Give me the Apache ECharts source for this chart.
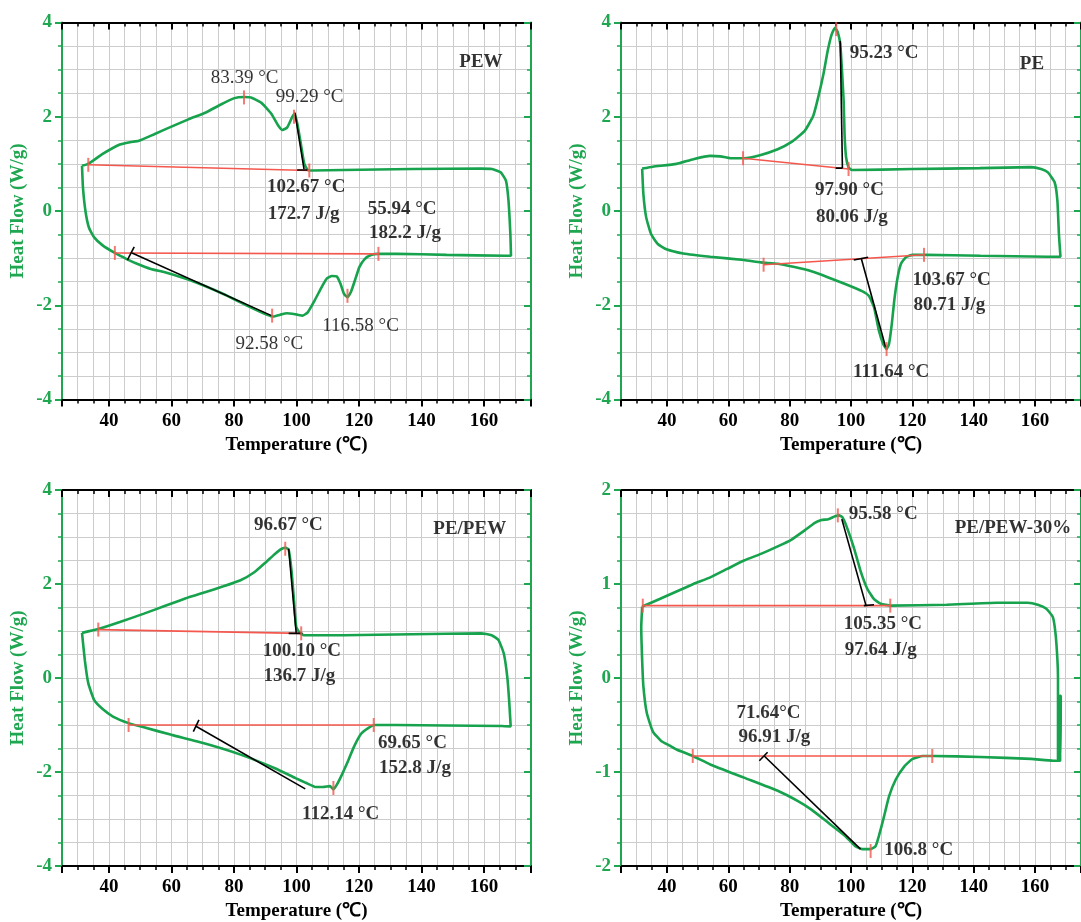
<!DOCTYPE html>
<html>
<head>
<meta charset="utf-8">
<title>DSC curves</title>
<script src="https://cdn.jsdelivr.net/npm/echarts@6/dist/echarts.min.js"></script>
<style>
  html, body { margin: 0; padding: 0; background: #fff; }
  #main { width: 1081px; height: 922px; }
</style>
</head>
<body>
<div id="main"></div>
<script>
// tick labels
const tempTicks = [40, 60, 80, 100, 120, 140, 160];
const flowTicks = [-4, -2, 0, 2, 4];
const flowTicks30 = [-2, -1, 0, 1, 2];

// PEW
const pewTemp = [31.4, 33.4, 38.0, 43.5, 46.8, 49.6, 54.5, 60.0, 65.6, 71.0, 75.5, 79.9, 83.2, 85.4, 88.7, 92.0, 94.2, 95.5, 97.0, 98.6,
  99.4, 100.3, 101.4, 102.5, 103.6, 105.2, 115, 137, 159, 162.5, 165.3, 167, 167.8, 168.4, 168.6, 167, 148, 132, 126, 124,
  121.8, 120.1, 119, 117.4, 116.3, 115.2, 114.1, 112.9, 111.3, 109.6, 108, 105.8, 103.6, 101.9, 100.3, 98.6, 97, 94.8, 92.6, 90.9,
  84.3, 76.6, 65.6, 57.9, 53.4, 49, 45.7, 41.9, 38, 35.3, 33.6, 32.5, 31.7, 31.4];
const pewFlow = [0.96, 1.00, 1.21, 1.41, 1.46, 1.49, 1.63, 1.79, 1.95, 2.09, 2.25, 2.39, 2.42, 2.41, 2.30, 2.06, 1.81, 1.72, 1.77, 1.99,
  2.07, 1.84, 1.42, 1.00, 0.87, 0.86, 0.87, 0.89, 0.90, 0.89, 0.82, 0.64, 0.22, -0.49, -0.95, -0.95, -0.93, -0.91, -0.91, -0.93,
  -1.02, -1.19, -1.41, -1.72, -1.83, -1.76, -1.55, -1.39, -1.38, -1.44, -1.62, -1.90, -2.15, -2.22, -2.20, -2.18, -2.17, -2.20, -2.24, -2.21,
  -2.01, -1.76, -1.46, -1.30, -1.23, -1.12, -1.02, -0.89, -0.73, -0.56, -0.35, 0.00, 0.50, 0.96];
const pewBaselines = [[[33.4, 0.98], [104.1, 0.86]], [[41.9, -0.89], [126.2, -0.91]]];
const pewMarks = [[33.4, 0.98], [104.1, 0.86], [83.2, 2.41], [99.2, 2.0], [41.9, -0.89], [126.2, -0.91], [92.2, -2.22], [116.3, -1.80]];
const pewTangents = [[[99.5, 2.09], [102.4, 0.89]], [[100.2, 0.87], [103.5, 0.87]], [[47.4, -0.89], [92.0, -2.22]], [[45.9, -1.04], [48.1, -0.76]]];
const pewNotes = [['102.67 °C', 103.1, 0.50], ['172.7 J/g', 102.3, -0.06], ['55.94 °C', 133.8, 0.04], ['182.2 J/g', 134.7, -0.47], ['PEW', 159.0, 3.15]];
const pewPeakNotes = [['83.39 °C', 83.4, 2.82], ['99.29 °C', 104.2, 2.41], ['116.58 °C', 120.5, -2.45], ['92.58 °C', 91.3, -2.82]];

// PE
const peTemp = [31.9, 35.4, 43.1, 48.6, 54.1, 57.4, 60.7, 65.1, 70.6, 76.1, 80.5, 84.9, 87.7, 89.3, 91.0, 92.4, 93.7, 94.8, 95.7, 96.5,
  97.0, 97.6, 97.9, 98.4, 99.2, 100.3, 120, 142, 158.7, 162, 164.2, 166.4, 167.3, 167.8, 168.3, 164.2, 142.2, 124.6, 120.1, 117.9,
  116.3, 115.2, 114.1, 113.3, 112.4, 111.6, 110.5, 109.1, 107.5, 105.8, 103.6, 98.1, 92.6, 87.1, 81.6, 76.1, 70.6, 65.1, 54.1, 45.3,
  39.8, 37.0, 34.8, 33.2, 32.3, 31.9];
const peFlow = [0.90, 0.94, 1.00, 1.10, 1.17, 1.16, 1.12, 1.12, 1.19, 1.31, 1.46, 1.70, 2.02, 2.41, 2.90, 3.40, 3.75, 3.89, 3.79, 3.54,
  3.05, 2.34, 1.63, 1.14, 0.93, 0.87, 0.89, 0.91, 0.93, 0.89, 0.82, 0.61, 0.22, -0.49, -0.97, -0.97, -0.95, -0.93, -0.93, -0.98,
  -1.12, -1.41, -1.90, -2.40, -2.82, -2.93, -2.82, -2.54, -2.04, -1.80, -1.70, -1.55, -1.41, -1.28, -1.19, -1.12, -1.09, -1.04, -0.97, -0.90,
  -0.81, -0.70, -0.49, -0.13, 0.36, 0.90];
const peBaselines = [[[64.8, 1.12], [99.2, 0.89]], [[71.5, -1.14], [123.8, -0.93]]];
const peMarks = [[64.8, 1.12], [99.2, 0.89], [95.2, 3.86], [71.5, -1.14], [123.8, -0.93], [111.6, -2.93]];
const peTangents = [[[96.5, 3.61], [97.2, 0.91]], [[95.0, 0.91], [97.2, 0.91]], [[103.4, -1.02], [111.3, -2.89]], [[100.9, -1.04], [105.6, -0.98]]];
const peNotes = [['95.23 °C', 110.8, 3.36], ['PE', 159.0, 3.12], ['97.90 °C', 99.5, 0.45], ['80.06 J/g', 100.3, -0.12],
  ['103.67 °C', 132.8, -1.46], ['80.71 J/g', 132.1, -1.99], ['111.64 °C', 113.1, -3.41]];

// PE/PEW
const blendTemp = [31.4, 36.6, 43.5, 51.2, 57.8, 64.4, 71.0, 76.6, 82.1, 86.5, 90.3, 93.1, 95.3, 96.6, 97.5, 98.4, 99.2, 99.9, 100.8, 102.4,
  115, 137, 159, 162.4, 164.6, 166.3, 167.4, 168.0, 168.5, 165.7, 148, 131.6, 125, 122.8, 120.6, 118.4, 116.2, 114.5, 112.9, 111.8,
  110.7, 108.5, 106.3, 103, 99.7, 93.1, 82.1, 71.0, 60.0, 51.2, 46.3, 41.3, 38.0, 35.3, 33.4, 32.3, 31.4];
const blendFlow = [0.96, 1.04, 1.19, 1.37, 1.53, 1.69, 1.83, 1.95, 2.08, 2.25, 2.47, 2.64, 2.75, 2.77, 2.73, 2.29, 1.65, 1.09, 0.98, 0.91,
  0.91, 0.93, 0.95, 0.91, 0.81, 0.52, 0.03, -0.47, -1.03, -1.02, -1.01, -1.00, -1.00, -1.07, -1.19, -1.46, -1.81, -2.06, -2.27, -2.37,
  -2.30, -2.32, -2.32, -2.23, -2.13, -1.92, -1.63, -1.40, -1.21, -1.05, -0.96, -0.82, -0.66, -0.47, -0.11, 0.38, 0.96];
const blendBaselines = [[[36.6, 1.03], [101.5, 0.95]], [[46.3, -1.0], [124.7, -1.0]]];
const blendMarks = [[36.6, 1.03], [101.5, 0.95], [96.4, 2.75], [46.3, -1.0], [124.7, -1.0], [111.8, -2.34]];
const blendTangents = [[[97.5, 2.75], [99.9, 0.96]], [[97.5, 0.95], [101.9, 0.95]], [[67.7, -1.02], [102.8, -2.36]], [[67.0, -1.14], [68.8, -0.89]]];
const blendNotes = [['96.67 °C', 97.4, 3.26], ['PE/PEW', 155.4, 3.17], ['100.10 °C', 101.7, 0.57], ['136.7 J/g', 100.9, 0.03],
  ['69.65 °C', 137.1, -1.39], ['152.8 J/g', 137.9, -1.92], ['112.14 °C', 114.1, -2.89]];

// PE/PEW-30%
const b30Temp = [31.9, 37.6, 43.1, 48.6, 54.1, 59.6, 65.1, 70.6, 76.1, 80.5, 84.9, 88.2, 90.4, 92.6, 94.8, 96.1, 97.2, 98.7, 100.9, 103.1,
  105.3, 107.5, 109.7, 113, 131.2, 147.7, 157.6, 160.9, 163.6, 165.8, 166.7, 167.3, 167.5, 167.5, 168.3, 168.4, 168.1, 168.2, 166, 158.7,
  142.2, 126.8, 123.4, 120.1, 117.4, 114.6, 112.4, 110.8, 109.1, 108, 106.4, 103.6, 101.4, 98.1, 92.6, 87.1, 82.7, 76.1, 65.1, 54.1,
  48.4, 43.1, 40.9, 38.1, 35.4, 33.4, 32.3, 31.9, 31.6, 31.9];
const b30Flow = [0.76, 0.84, 0.92, 1.00, 1.07, 1.16, 1.25, 1.32, 1.40, 1.47, 1.57, 1.65, 1.68, 1.69, 1.72, 1.73, 1.71, 1.60, 1.39, 1.14,
  0.95, 0.84, 0.79, 0.77, 0.78, 0.80, 0.80, 0.78, 0.74, 0.65, 0.47, 0.20, 0.00, -0.86, -0.88, -0.19, -0.19, -0.88, -0.88, -0.86,
  -0.84, -0.83, -0.83, -0.86, -0.94, -1.08, -1.26, -1.47, -1.68, -1.79, -1.82, -1.82, -1.79, -1.68, -1.54, -1.40, -1.31, -1.20, -1.06, -0.92,
  -0.83, -0.76, -0.72, -0.67, -0.57, -0.37, -0.09, 0.19, 0.54, 0.76];
const b30Baselines = [[[32.1, 0.77], [112.8, 0.77]], [[48.4, -0.83], [126.5, -0.83]]];
const b30Marks = [[32.1, 0.77], [112.8, 0.77], [95.7, 1.73], [48.4, -0.83], [126.5, -0.83], [106.4, -1.84]];
const b30Tangents = [[[97.0, 1.69], [104.9, 0.77]], [[104.2, 0.77], [107.5, 0.78]], [[71.7, -0.83], [103.1, -1.82]], [[70.1, -0.88], [72.8, -0.79]]];
const b30Notes = [['95.58 °C', 110.5, 1.74], ['PE/PEW-30%', 152.8, 1.60], ['105.35 °C', 110.4, 0.57], ['97.64 J/g', 109.7, 0.30],
  ['71.64°C', 73.1, -0.37], ['96.91 J/g', 75.0, -0.63], ['106.8 °C', 122.1, -1.83]];

const GREEN = '#17a24d';
const AXIS_GREEN = '#1fa650';
const RED = '#f4574d';
const GRID = '#cccccc';
const INK = '#000';
const FONT = '"Liberation Serif", "Times New Roman", serif';

const panels = [
  { temp: pewTemp, flow: pewFlow, base: pewBaselines, marks: pewMarks, tangents: pewTangents, notes: pewNotes, thin: pewPeakNotes, yTicks: flowTicks },
  { temp: peTemp, flow: peFlow, base: peBaselines, marks: peMarks, tangents: peTangents, notes: peNotes, thin: [], yTicks: flowTicks },
  { temp: blendTemp, flow: blendFlow, base: blendBaselines, marks: blendMarks, tangents: blendTangents, notes: blendNotes, thin: [], yTicks: flowTicks },
  { temp: b30Temp, flow: b30Flow, base: b30Baselines, marks: b30Marks, tangents: b30Tangents, notes: b30Notes, thin: [], yTicks: flowTicks30 }
];
const boxes = [[62, 22.5], [621, 22.5], [62, 490], [621, 490]];

function xAxes(i) {
  const common = { gridIndex: i, type: 'value', min: 25, max: 175, minInterval: 20, maxInterval: 20 };
  return [
    Object.assign({}, common, {
      position: 'bottom',
      axisLine: { onZero: false, lineStyle: { color: INK, width: 2 } },
      axisTick: { length: 7, lineStyle: { color: INK, width: 2 } },
      minorTick: { show: true, splitNumber: 4, length: 4, lineStyle: { color: INK, width: 1.5 } },
      splitLine: { show: true, lineStyle: { color: GRID, width: 1 } },
      minorSplitLine: { show: true, lineStyle: { color: GRID, width: 1 } },
      axisLabel: { customValues: tempTicks, margin: 12, color: INK, fontFamily: FONT, fontWeight: 'bold', fontSize: 19 },
      name: 'Temperature (℃)', nameLocation: 'middle', nameGap: 36,
      nameTextStyle: { color: INK, fontFamily: FONT, fontWeight: 'bold', fontSize: 19 }
    }),
    Object.assign({}, common, {
      position: 'top',
      axisLine: { onZero: false, lineStyle: { color: INK, width: 2 } },
      axisTick: { inside: true, length: 7, lineStyle: { color: INK, width: 2 } },
      minorTick: { show: true, splitNumber: 4, length: 4, lineStyle: { color: INK, width: 1.5 } },
      splitLine: { show: false },
      axisLabel: { show: false }
    })
  ];
}

function yAxes(i, ticks) {
  const common = { gridIndex: i, type: 'value', min: ticks[0], max: ticks[ticks.length - 1], interval: ticks[1] - ticks[0] };
  return [
    Object.assign({}, common, {
      position: 'left',
      axisLine: { onZero: false, lineStyle: { color: AXIS_GREEN, width: 2 } },
      axisTick: { length: 7, lineStyle: { color: AXIS_GREEN, width: 2 } },
      minorTick: { show: true, splitNumber: 4, length: 4, lineStyle: { color: AXIS_GREEN, width: 1.5 } },
      splitLine: { show: true, lineStyle: { color: GRID, width: 1 } },
      minorSplitLine: { show: true, lineStyle: { color: GRID, width: 1 } },
      axisLabel: { customValues: ticks, margin: 10, color: AXIS_GREEN, fontFamily: FONT, fontWeight: 'bold', fontSize: 19 },
      name: 'Heat Flow (W/g)', nameLocation: 'middle', nameGap: 34,
      nameTextStyle: { color: AXIS_GREEN, fontFamily: FONT, fontWeight: 'bold', fontSize: 19 }
    }),
    Object.assign({}, common, {
      position: 'right',
      axisLine: { onZero: false, lineStyle: { color: AXIS_GREEN, width: 2 } },
      axisTick: { inside: true, length: 7, lineStyle: { color: AXIS_GREEN, width: 2 } },
      minorTick: { show: true, splitNumber: 4, length: 4, lineStyle: { color: AXIS_GREEN, width: 1.5 } },
      splitLine: { show: false },
      axisLabel: { show: false }
    })
  ];
}

function noteSeries(ax, notes, weight) {
  return {
    type: 'scatter', xAxisIndex: ax, yAxisIndex: ax, silent: true, clip: false,
    symbolSize: 1, itemStyle: { color: 'rgba(0,0,0,0)' },
    data: notes.map(n => ({ name: n[0], value: [n[1], n[2]] })),
    label: { show: true, position: 'inside', formatter: '{b}', color: INK, fontFamily: FONT, fontWeight: weight, fontSize: 19 },
    z: 10
  };
}

function panelSeries(i, p) {
  const ax = 2 * i;
  const out = [];
  out.push({
    type: 'line', xAxisIndex: ax, yAxisIndex: ax, silent: true,
    data: p.temp.map((t, k) => [t, p.flow[k]]),
    showSymbol: false, symbol: 'none', smooth: 0.15,
    lineStyle: { color: GREEN, width: 2.6 }, z: 3
  });
  p.base.forEach(seg => out.push({
    type: 'line', xAxisIndex: ax, yAxisIndex: ax, silent: true, data: seg, symbol: 'none',
    lineStyle: { color: RED, width: 1.6 }, z: 4
  }));
  p.tangents.forEach(seg => out.push({
    type: 'line', xAxisIndex: ax, yAxisIndex: ax, silent: true, data: seg, symbol: 'none',
    lineStyle: { color: INK, width: 1.6 }, z: 5
  }));
  out.push({
    type: 'scatter', xAxisIndex: ax, yAxisIndex: ax, silent: true, data: p.marks,
    symbol: 'rect', symbolSize: [2, 14], itemStyle: { color: RED }, z: 6
  });
  out.push(noteSeries(ax, p.notes, 'bold'));
  if (p.thin.length) out.push(noteSeries(ax, p.thin, 'normal'));
  return out;
}

const chart = echarts.init(document.getElementById('main'));
chart.setOption({
  animation: false,
  backgroundColor: '#fff',
  grid: boxes.map(b => ({ left: b[0], top: b[1], width: 469, height: 377 })),
  xAxis: [].concat(...panels.map((p, i) => xAxes(i))),
  yAxis: [].concat(...panels.map((p, i) => yAxes(i, p.yTicks))),
  series: [].concat(...panels.map((p, i) => panelSeries(i, p)))
});
window.addEventListener('resize', () => chart.resize());
</script>
</body>
</html>
